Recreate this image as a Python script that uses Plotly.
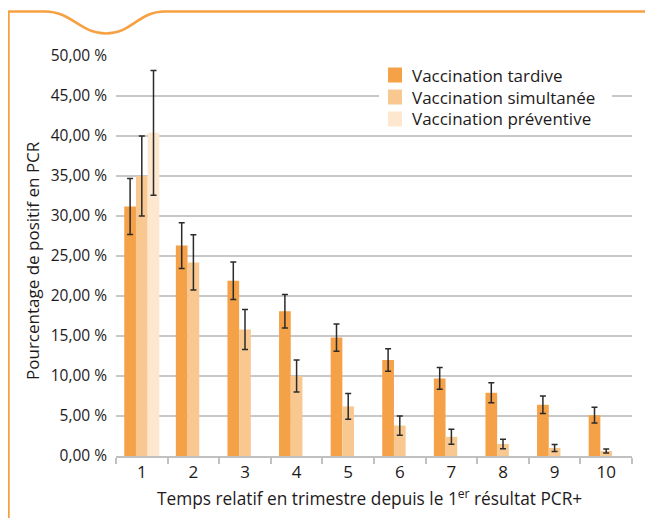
import plotly.graph_objects as go

categories = ["1", "2", "3", "4", "5", "6", "7", "8", "9", "10"]
tardive = [31.2, 26.3, 21.9, 18.1, 14.8, 12.0, 9.7, 7.9, 6.4, 5.1]
tardive_err = [3.5, 2.85, 2.35, 2.1, 1.7, 1.4, 1.35, 1.25, 1.1, 0.98]
simultanee = [35.0, 24.2, 15.8, 10.0, 6.2, 3.8, 2.4, 1.5, 1.0, 0.62]
simultanee_err = [5.0, 3.45, 2.5, 2.0, 1.6, 1.2, 0.93, 0.58, 0.43, 0.25]
preventive = [40.4, None, None, None, None, None, None, None, None, None]
preventive_err = [7.8, None, None, None, None, None, None, None, None, None]
y_ticks = [0, 5, 10, 15, 20, 25, 30, 35, 40, 45, 50]
y_tick_text = ["0,00 %", "5,00 %", "10,00 %", "15,00 %", "20,00 %", "25,00 %",
               "30,00 %", "35,00 %", "40,00 %", "45,00 %", "50,00 %"]
names = ["Vaccination tardive", "Vaccination simultanée", "Vaccination préventive"]

# page body offsets the figure by 8px; work in reference pixels and shift
O = 8
W, H = 653 - O, 518 - O
L, T = 116 - O, 56 - O
pw, ph = 516, 400
R, B = W - L - pw, H - T - ph

def px(x):
    return (x - O - L) / pw

def py(y):
    return (T + ph - (y - O)) / ph

TXT = "#1e1a1b"
FONT = "Open Sans"
colors = ["#f5a148", "#f9c891", "#fde7cf"]
vals = [tardive, simultanee, preventive]
errs = [tardive_err, simultanee_err, preventive_err]

fig = go.Figure()
for n, c, v, e in zip(names, colors, vals, errs):
    fig.add_trace(go.Bar(
        x=categories, y=v, name=n, marker=dict(color=c, line=dict(width=0)),
        error_y=dict(type="data", array=e, visible=True, color="#2b2b2b",
                     thickness=1.5, width=3),
        showlegend=False,
    ))

# decorative frame with wave
path = (f"M {px(8.5)},{py(530)} L {px(8.5)},{py(11.5)} L {px(45)},{py(11.5)} "
        f"C {px(72)},{py(11.5)} {px(80)},{py(33.5)} {px(106)},{py(33.5)} "
        f"C {px(132)},{py(33.5)} {px(138)},{py(11.5)} {px(165)},{py(11.5)} "
        f"L {px(670)},{py(11.5)}")
fig.add_shape(type="path", xref="paper", yref="paper", path=path,
              line=dict(color="#f7a042", width=2.5), layer="above")

# legend (drawn manually to match spacing)
fig.add_shape(type="rect", xref="paper", yref="paper", layer="above",
              x0=px(379), x1=px(612), y0=py(62), y1=py(131),
              fillcolor="white", line=dict(width=0))
for i, (n, c) in enumerate(zip(names, colors)):
    yc = 75 + 22 * i
    fig.add_shape(type="rect", xref="paper", yref="paper", layer="above",
                  x0=px(388), x1=px(402), y0=py(yc - 7.5), y1=py(yc + 7.5),
                  fillcolor=c, line=dict(width=0))
    fig.add_annotation(x=px(410), y=py(yc), xref="paper", yref="paper",
                       xanchor="left", yanchor="middle", text=n, showarrow=False,
                       font=dict(family=FONT, size=17, color=TXT))

fig.add_annotation(x=px(33), y=py(261), xref="paper", yref="paper",
                   xanchor="center", yanchor="middle",
                   text="Pourcentage de positif en PCR", textangle=-90,
                   showarrow=False, font=dict(family=FONT, size=17, color=TXT))
fig.add_annotation(x=px(369), y=py(497), xref="paper", yref="paper",
                   xanchor="center", yanchor="middle",
                   text="Temps relatif en trimestre depuis le 1<sup>er</sup> résultat PCR+",
                   showarrow=False, font=dict(family=FONT, size=17.3, color=TXT))

fig.update_layout(
    width=W, height=H,
    margin=dict(l=L, r=R, t=T, b=B, autoexpand=False),
    paper_bgcolor="white", plot_bgcolor="white",
    barmode="group", bargap=0.32, bargroupgap=0,
    font=dict(family=FONT, color=TXT),
    showlegend=False,
)
fig.update_yaxes(range=[0, 50], tickvals=y_ticks, ticktext=y_tick_text,
                 showgrid=True, gridcolor="#c8c8c8", gridwidth=1.5,
                 zeroline=False, showline=False, ticks="", ticklabelstandoff=8,
                 tickfont=dict(family=FONT, size=15.5, color=TXT))
fig.update_xaxes(type="category", showline=True, linecolor="#c0c0c0", linewidth=1.5,
                 ticks="outside", tickson="boundaries", ticklen=6, tickcolor="#c0c0c0",
                 tickwidth=1.5, showgrid=False,
                 tickfont=dict(family=FONT, size=17, color=TXT))

fig.write_html("out.html")
